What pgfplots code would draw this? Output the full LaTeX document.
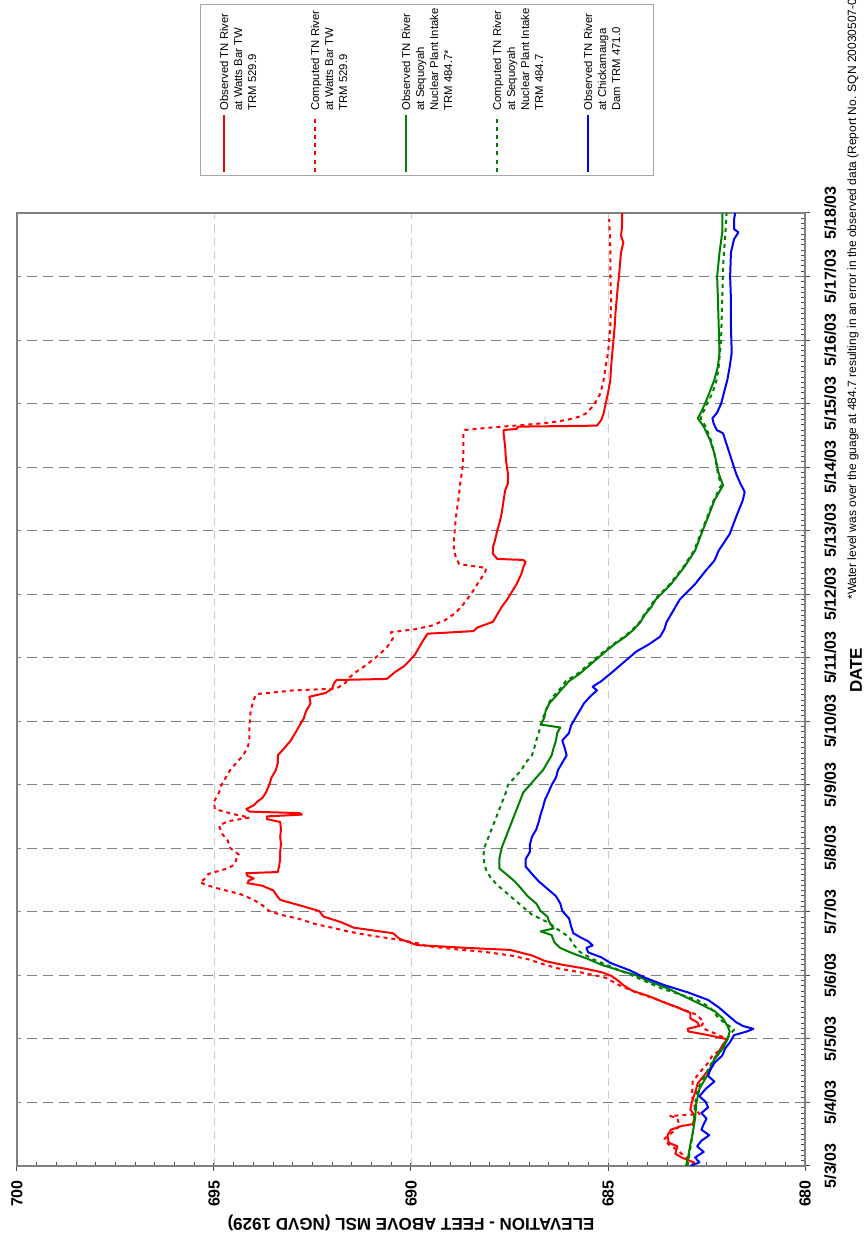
\documentclass[border=0pt]{standalone}
\usepackage{fontspec}
\setmainfont{Liberation Sans}
\usepackage{graphicx}
\usepackage{pgfplots}
\pgfplotsset{compat=1.18}

\definecolor{dgreen}{RGB}{0,128,0}
% legend text: fixed-height box so every entry takes the same room
\newcommand\lgd[2][54.3pt]{\parbox[t][#1][t]{62pt}{\raggedright #2}}

\begin{document}
\rotatebox{90}{%
\begin{tikzpicture}
\useasboundingbox (0,0) rectangle (742.8pt,519.6pt);
\clip (0,0) rectangle (742.8pt,519.6pt);
\begin{axis}[
  name=ax,
  at={(43.2pt,36.6pt)}, anchor=south west,
  scale only axis, width=571.8pt, height=472.8pt,
  xmin=0, xmax=15, ymin=680, ymax=700,
  xtick={0,...,15},
  xticklabels={5/3/03,5/4/03,5/5/03,5/6/03,5/7/03,5/8/03,5/9/03,5/10/03,5/11/03,5/12/03,5/13/03,5/14/03,5/15/03,5/16/03,5/17/03,5/18/03},
  ytick={680,685,...,700},
  minor x tick num=11, minor y tick num=9,
  xtick pos=bottom, ytick pos=left,
  tick align=inside,
  major tick length=4.5pt, minor tick length=2.4pt,
  major x tick style={yshift=-3pt}, major y tick style={xshift=-3pt},
  tick style={draw=gray!60!black, line width=0.6pt},
  axis line style={draw=gray, line width=1.2pt},
  grid=major,
  x grid style={gray, dash pattern=on 6pt off 3.6pt, line width=0.6pt},
  y grid style={gray!40, dash pattern=on 5pt off 3pt, line width=0.5pt},
  /pgf/number format/assume math mode=true,
  tick label style={font=\bfseries\fontsize{9.6}{11}\selectfont},
  xticklabel style={yshift=-8pt},
  yticklabel style={xshift=-5pt},
  xlabel={DATE},
  ylabel={ELEVATION - FEET ABOVE MSL (NGVD 1929)},
  label style={font=\bfseries\fontsize{10.2}{12}\selectfont},
  xlabel style={at={(axis description cs:0.52,-0.0647)}, anchor=center},
  ylabel style={at={(axis description cs:-0.0598,0.5)}, anchor=center},
  legend style={at={(axis description cs:1.0388,0.7678)}, anchor=north west,
    draw=gray!70, line width=0.6pt, inner xsep=1.8pt, inner ysep=11.4pt,
    font=\fontsize{6.8}{8.4}\selectfont, cells={anchor=north west},
    column sep=2.4pt, row sep=0pt, nodes={inner sep=0pt, text depth=}},
  legend image code/.code={\draw[#1] (0pt,-2.45pt) -- (33.6pt,-2.45pt);},
  every axis plot/.append style={line width=1.2pt, line join=round},
]

% Observed TN River at Watts Bar TW
\addplot[red] coordinates {
(0.047,682.79) (0.134,683.13) (0.193,683.29) (0.309,683.24) (0.368,683.46) (0.484,683.49) (0.572,683.40) (0.630,683.13) (0.659,682.85) (0.776,682.79) (0.893,682.91) (1.009,682.87) (1.155,682.79) (1.301,682.72) (1.418,682.57) (1.534,682.41) (1.680,682.30) (1.797,682.19) (1.914,682.08) (1.995,681.97) (2.060,682.46) (2.118,682.96) (2.159,682.98) (2.205,682.68) (2.264,682.74) (2.322,682.91) (2.410,682.91) (2.497,683.24) (2.585,683.62) (2.672,683.95) (2.760,684.39) (2.847,684.61) (2.935,684.78) (2.999,684.94) (3.051,685.17) (3.110,685.61) (3.168,686.16) (3.226,686.60) (3.314,686.93) (3.401,687.48) (3.431,688.53) (3.477,689.85) (3.576,690.29) (3.664,690.46) (3.751,691.45) (3.839,691.78) (3.926,692.22) (4.014,692.33) (4.084,692.72) (4.131,692.99) (4.189,693.32) (4.277,693.43) (4.335,693.49) (4.411,693.77) (4.452,694.15) (4.492,694.12) (4.527,693.99) (4.568,694.15) (4.609,694.18) (4.627,693.38) (4.714,693.35) (4.831,693.32) (4.947,693.32) (5.064,693.30) (5.181,693.32) (5.298,693.30) (5.414,693.32) (5.461,693.66) (5.502,693.66) (5.531,692.77) (5.554,692.83) (5.578,694.10) (5.618,694.18) (5.677,693.99) (5.735,693.90) (5.794,693.77) (5.881,693.68) (5.998,693.60) (6.114,693.54) (6.231,693.43) (6.348,693.38) (6.464,693.38) (6.581,693.21) (6.698,693.05) (6.814,692.94) (6.931,692.83) (7.048,692.72) (7.165,692.66) (7.281,692.55) (7.386,692.58) (7.444,692.17) (7.515,692.00) (7.602,691.95) (7.649,691.89) (7.666,690.62) (7.719,690.51) (7.777,690.40) (7.865,690.18) (7.952,690.04) (8.040,689.91) (8.156,689.80) (8.273,689.69) (8.378,689.58) (8.419,688.42) (8.477,688.31) (8.565,687.92) (8.681,687.81) (8.798,687.70) (8.915,687.56) (9.159,687.32) (9.317,687.20) (9.423,687.15) (9.502,687.09) (9.539,687.15) (9.555,687.81) (9.634,687.92) (9.739,687.92) (9.844,687.87) (10.003,687.81) (10.108,687.76) (10.266,687.70) (10.477,687.65) (10.635,687.61) (10.741,687.54) (10.899,687.54) (11.110,687.59) (11.321,687.61) (11.532,687.65) (11.584,687.65) (11.600,687.32) (11.637,687.28) (11.653,685.28) (11.742,685.17) (11.848,685.11) (11.995,685.06) (12.164,685.00) (12.375,684.94) (12.586,684.92) (12.797,684.89) (13.002,684.86) (13.218,684.83) (13.429,684.81) (13.640,684.78) (13.851,684.75) (13.998,684.72) (14.167,684.70) (14.378,684.67) (14.536,684.61) (14.642,684.67) (14.800,684.64) (15.0,684.64)
};
\addlegendentry{\lgd{Observed TN River\par at Watts Bar TW\par TRM 529.9}}

% Computed TN River at Watts Bar TW
\addplot[red, dash pattern=on 2.4pt off 2.4pt] coordinates {
(0.018,682.79) (0.134,683.02) (0.251,683.24) (0.338,683.46) (0.426,683.57) (0.513,683.40) (0.630,683.18) (0.747,683.24) (0.788,683.42) (0.817,682.68) (0.922,682.79) (1.097,682.87) (1.330,682.85) (1.505,682.63) (1.622,682.46) (1.739,682.35) (1.855,682.08) (1.995,681.97) (2.089,682.30) (2.147,682.52) (2.205,682.63) (2.264,682.57) (2.380,682.74) (2.497,683.24) (2.614,683.73) (2.730,684.28) (2.847,684.72) (2.964,685.06) (3.051,685.72) (3.110,686.27) (3.168,686.60) (3.256,687.04) (3.314,687.48) (3.372,688.14) (3.401,688.69) (3.460,689.58) (3.518,689.91) (3.576,690.46) (3.635,691.12) (3.693,691.61) (3.751,692.00) (3.810,692.44) (3.897,692.88) (3.956,693.32) (4.014,693.60) (4.102,693.77) (4.189,693.99) (4.277,694.32) (4.364,694.87) (4.422,695.20) (4.469,695.36) (4.510,695.25) (4.597,695.14) (4.685,694.65) (4.743,694.48) (4.831,694.43) (4.901,694.37) (5.006,694.59) (5.123,694.65) (5.239,694.81) (5.356,694.87) (5.426,694.65) (5.484,694.10) (5.543,694.54) (5.618,694.98) (5.735,695.00) (5.881,694.87) (5.998,694.81) (6.114,694.70) (6.231,694.59) (6.348,694.43) (6.464,694.26) (6.581,694.15) (6.698,694.10) (6.931,694.10) (7.165,694.07) (7.340,693.99) (7.427,693.93) (7.485,692.99) (7.515,691.89) (7.602,691.67) (7.690,691.56) (7.777,691.39) (7.894,691.12) (7.999,690.90) (8.156,690.62) (8.302,690.46) (8.401,690.51) (8.448,689.91) (8.506,689.47) (8.594,689.13) (8.710,688.86) (8.827,688.69) (8.915,688.58) (9.054,688.42) (9.212,688.26) (9.344,688.12) (9.412,688.09) (9.475,688.78) (9.581,688.86) (9.686,688.91) (9.844,688.91) (10.003,688.89) (10.214,688.86) (10.477,688.80) (10.741,688.75) (11.005,688.69) (11.215,688.67) (11.532,688.67) (11.584,688.64) (11.626,687.92) (11.663,687.15) (11.700,686.49) (11.742,686.05) (11.795,685.72) (11.848,685.55) (11.953,685.39) (12.059,685.28) (12.164,685.19) (12.375,685.11) (12.586,685.06) (12.797,685.00) (13.002,684.97) (13.218,684.94) (13.640,684.92) (13.998,684.94) (14.431,684.94) (14.905,684.97)
};
\addlegendentry{\lgd{Computed TN River\par at Watts Bar TW\par TRM 529.9}}

% Observed TN River at Sequoyah Nuclear Plant Intake
\addplot[dgreen] coordinates {
(0,683.02) (0.163,682.96) (0.338,682.91) (0.513,682.85) (0.747,682.79) (0.980,682.76) (1.214,682.68) (1.447,682.46) (1.680,682.30) (1.855,682.08) (1.995,681.97) (2.118,681.91) (2.205,681.97) (2.322,682.08) (2.439,682.30) (2.555,682.68) (2.672,683.07) (2.789,683.46) (2.905,683.95) (2.999,684.28) (3.080,684.72) (3.168,685.17) (3.256,685.50) (3.343,685.88) (3.431,686.21) (3.518,686.36) (3.635,686.43) (3.693,686.71) (3.739,686.38) (3.839,686.49) (3.926,686.54) (4.014,686.71) (4.131,686.82) (4.247,687.04) (4.364,687.20) (4.481,687.37) (4.597,687.59) (4.685,687.76) (4.831,687.76) (5.006,687.70) (5.181,687.59) (5.356,687.48) (5.531,687.37) (5.706,687.26) (5.881,687.15) (5.998,686.98) (6.114,686.82) (6.231,686.65) (6.348,686.54) (6.464,686.43) (6.581,686.38) (6.698,686.32) (6.814,686.29) (6.902,686.21) (6.948,686.71) (7.048,686.62) (7.165,686.58) (7.281,686.49) (7.398,686.32) (7.515,686.16) (7.631,685.99) (7.748,685.72) (7.865,685.50) (7.981,685.28) (8.098,685.06) (8.215,684.83) (8.331,684.56) (8.448,684.34) (8.565,684.17) (8.681,684.06) (8.798,683.90) (8.915,683.79) (9.159,683.40) (9.423,683.07) (9.686,682.79) (9.950,682.63) (10.214,682.46) (10.477,682.30) (10.714,682.08) (10.899,682.19) (11.215,682.30) (11.426,682.41) (11.637,682.57) (11.769,682.72) (11.848,682.65) (11.995,682.54) (12.164,682.43) (12.375,682.30) (12.586,682.21) (12.797,682.17) (13.218,682.19) (13.640,682.21) (13.998,682.23) (14.378,682.17) (14.694,682.10) (15,682.10)
};
\addlegendentry{\lgd{Observed TN River\par at Sequoyah\par Nuclear Plant Intake\par TRM 484.7*}}

% Computed TN River at Sequoyah Nuclear Plant Intake
\addplot[dgreen, dash pattern=on 2.4pt off 2.4pt] coordinates {
(0,682.98) (0.280,682.91) (0.513,682.85) (0.747,682.82) (0.980,682.79) (1.214,682.72) (1.447,682.52) (1.680,682.32) (1.855,682.10) (1.995,681.99) (2.147,681.80) (2.322,682.19) (2.497,682.41) (2.614,682.74) (2.789,683.62) (2.999,684.39) (3.139,684.94) (3.256,685.39) (3.372,685.72) (3.489,685.88) (3.606,685.99) (3.722,686.27) (3.839,686.54) (3.956,686.93) (4.072,687.15) (4.189,687.37) (4.306,687.59) (4.422,687.81) (4.539,687.98) (4.656,688.09) (4.772,688.14) (4.889,688.16) (5.006,688.14) (5.181,688.03) (5.356,687.92) (5.531,687.81) (5.706,687.70) (5.881,687.59) (5.998,687.54) (6.114,687.37) (6.231,687.20) (6.348,687.09) (6.464,686.93) (6.581,686.87) (6.698,686.82) (6.814,686.76) (6.931,686.71) (7.048,686.65) (7.165,686.58) (7.281,686.51) (7.398,686.38) (7.515,686.21) (7.631,686.07) (7.748,685.77) (7.865,685.55) (7.981,685.33) (8.098,685.11) (8.215,684.86) (8.331,684.59) (8.448,684.37) (8.565,684.19) (8.681,684.08) (8.798,683.93) (8.915,683.82) (9.159,683.43) (9.423,683.09) (9.686,682.82) (9.950,682.65) (10.214,682.48) (10.477,682.32) (10.714,682.13) (10.899,682.21) (11.215,682.30) (11.426,682.39) (11.637,682.52) (11.769,682.65) (11.953,682.52) (12.164,682.35) (12.375,682.24) (12.586,682.19) (13.002,682.13) (13.640,682.10) (14.167,682.08) (14.694,682.02) (15,681.99)
};
\addlegendentry{\lgd{Computed TN River\par at Sequoyah\par Nuclear Plant Intake\par TRM 484.7}}

% Observed TN River at Chickamauga Dam
\addplot[blue] coordinates {
(0,682.91) (0.058,682.68) (0.134,682.79) (0.222,682.57) (0.309,682.74) (0.397,682.63) (0.484,682.43) (0.572,682.63) (0.659,682.57) (0.747,682.50) (0.834,682.63) (0.922,682.46) (1.009,682.52) (1.097,682.68) (1.214,682.52) (1.330,682.30) (1.418,682.46) (1.505,682.41) (1.622,682.30) (1.739,682.10) (1.855,682.02) (1.943,681.91) (1.995,681.86) (2.060,681.80) (2.118,681.47) (2.159,681.31) (2.205,681.58) (2.264,681.75) (2.380,681.97) (2.497,682.19) (2.614,682.46) (2.730,682.96) (2.847,683.57) (2.964,684.06) (3.080,684.45) (3.197,684.94) (3.285,685.17) (3.361,685.50) (3.431,685.55) (3.472,685.39) (3.536,685.50) (3.606,685.72) (3.664,685.88) (3.781,685.94) (3.897,685.99) (4.014,686.16) (4.131,686.21) (4.247,686.32) (4.364,686.54) (4.481,686.76) (4.597,686.93) (4.714,687.09) (4.831,687.09) (4.947,686.98) (5.064,686.98) (5.181,686.93) (5.298,686.82) (5.414,686.76) (5.531,686.71) (5.648,686.65) (5.764,686.60) (5.881,686.51) (5.998,686.43) (6.114,686.32) (6.231,686.27) (6.348,686.16) (6.464,686.05) (6.581,686.10) (6.698,686.16) (6.814,685.99) (6.931,685.94) (7.048,685.83) (7.165,685.72) (7.281,685.61) (7.398,685.44) (7.485,685.28) (7.544,685.39) (7.631,685.17) (7.748,684.94) (7.865,684.72) (7.981,684.50) (8.098,684.28) (8.215,683.95) (8.331,683.68) (8.448,683.57) (8.565,683.51) (8.681,683.40) (8.798,683.29) (8.915,683.18) (9.159,682.79) (9.370,682.52) (9.528,682.30) (9.686,682.19) (9.950,681.91) (10.214,681.75) (10.477,681.58) (10.609,681.53) (10.741,681.64) (10.899,681.75) (11.110,681.86) (11.321,681.97) (11.532,682.08) (11.584,682.24) (11.690,682.32) (11.769,682.35) (11.848,682.24) (11.995,682.13) (12.164,682.06) (12.375,681.97) (12.586,681.91) (12.797,681.86) (13.218,681.88) (13.640,681.88) (13.998,681.90) (14.378,681.88) (14.589,681.80) (14.694,681.69) (14.747,681.80) (14.905,681.80) (15,681.77)
};
\addlegendentry{\lgd[30.6pt]{Observed TN River\par at Chickamauga\par Dam TRM 471.0}}

\end{axis}
\node[anchor=west, inner sep=0pt, font=\fontsize{7.2}{8.5}\selectfont] at (382.8pt,7.8pt)
  {*Water level was over the guage at 484.7 resulting in an error in the observed data (Report No. SQN 20030507-01)};
\end{tikzpicture}}
\end{document}
